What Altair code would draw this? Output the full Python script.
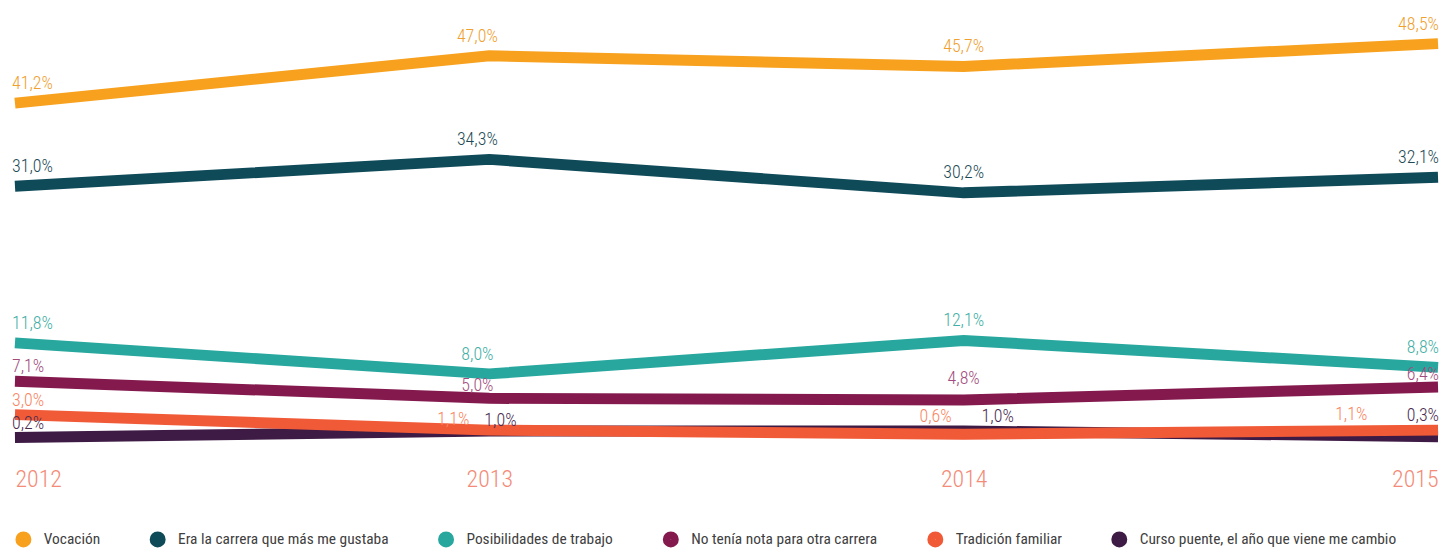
import json
import altair as alt
import pandas as pd

# ---------------- data ----------------
years = [2012, 2013, 2014, 2015]
series_names = [
    "Vocación",
    "Era la carrera que más me gustaba",
    "Posibilidades de trabajo",
    "No tenía nota para otra carrera",
    "Tradición familiar",
    "Curso puente, el año que viene me cambio",
]
vocacion = [41.2, 47.0, 45.7, 48.5]
era_carrera = [31.0, 34.3, 30.2, 32.1]
posibilidades = [11.8, 8.0, 12.1, 8.8]
no_nota = [7.1, 5.0, 4.8, 6.4]
tradicion = [3.0, 1.1, 0.6, 1.1]
curso_puente = [0.2, 1.0, 1.0, 0.3]

values_by_series = {
    series_names[0]: vocacion,
    series_names[1]: era_carrera,
    series_names[2]: posibilidades,
    series_names[3]: no_nota,
    series_names[4]: tradicion,
    series_names[5]: curso_puente,
}

draw_order = [series_names[i] for i in (0, 1, 2, 3, 5, 4)]

rows = []
for s in draw_order:
    for y, v in zip(years, values_by_series[s]):
        rows.append({"series": s, "year": y, "value": v,
                     "label": f"{v:.1f}".replace(".", ",") + "%"})
df = pd.DataFrame(rows)

FONT = "Liberation Sans Narrow, Roboto Condensed, Roboto, sans-serif"
line_colors = ["#F7A11E", "#0F4A59", "#27A79D", "#83194D", "#F15A37", "#3E1B45"]
label_colors = ["#EFA02E", "#1D4B55", "#3FAFA5", "#A24C7D", "#F98563", "#4A2B4F"]

x_enc = alt.X(
    "year:Q",
    scale=alt.Scale(domain=[2012, 2015], nice=False, zero=False),
    axis=alt.Axis(values=years, format="d", title=None, labelFlush=True,
                  domain=False, ticks=False, grid=False,
                  labelFont=FONT, labelFontSize=24, labelFontWeight=300,
                  labelColor="#F38B78", labelPadding=29),
)
y_enc = alt.Y("value:Q", scale=alt.Scale(domain=[0, 52.68], nice=False), axis=None)

base = alt.Chart(df)

lines = base.mark_line(strokeWidth=11, strokeCap="butt").encode(
    x=x_enc,
    y=y_enc,
    color=alt.Color(
        "series:N",
        scale=alt.Scale(domain=series_names, range=line_colors),
        legend=alt.Legend(title=None, orient="bottom", direction="horizontal",
                          offset=39, symbolType="circle",
                          symbolSize=57, symbolStrokeWidth=8.5,
                          labelFont=FONT, labelFontSize=15.5,
                          labelColor="#404040", labelOffset=12, columnPadding=36,
                          labelLimit=500),
    ),
)

TOP = series_names[:3]
NOTA = [series_names[3]]
TRAD = [series_names[4]]
CURSO = [series_names[5]]

label_specs = [
    (2012, TOP, "left", -3, -14),
    (2012, NOTA + TRAD + CURSO, "left", -3, -9),
    (2013, TOP, "center", -12, -14),
    (2013, NOTA, "center", -12, -7),
    (2013, TRAD, "right", -20, -5),
    (2013, CURSO, "left", -5, -5),
    (2014, TOP, "center", 0, -15),
    (2014, NOTA, "center", 0, -16),
    (2014, TRAD, "right", -12, -12),
    (2014, CURSO, "left", 18, -9),
    (2015, TOP, "right", 1, -14),
    (2015, NOTA, "right", 1, -7),
    (2015, TRAD, "right", -71, -10),
    (2015, CURSO, "right", 1, -16),
]

text_layers = []
for yr, group, align, dx, dy in label_specs:
    ors = " || ".join(f"datum.series == {json.dumps(g, ensure_ascii=False)}" for g in group)
    expr = f"datum.year == {yr} && ({ors})"
    text_layers.append(
        base.transform_filter(expr).mark_text(
            align=align, dx=dx, dy=dy, baseline="alphabetic",
            font=FONT, fontSize=18, fontWeight=300,
        ).encode(
            x=alt.X("year:Q"),
            y=alt.Y("value:Q"),
            text="label:N",
            fill=alt.Fill("series:N",
                          scale=alt.Scale(domain=series_names, range=label_colors),
                          legend=None),
        )
    )

chart = alt.layer(lines, *text_layers).properties(
    width=1431,
    height=432,
    padding={"left": 7, "top": 0, "right": 5, "bottom": 112},
    autosize=alt.AutoSizeParams(type="none"),
    background="white",
).configure_view(strokeWidth=0)

chart.save("out.html", embed_options={"renderer": "svg", "actions": False})
